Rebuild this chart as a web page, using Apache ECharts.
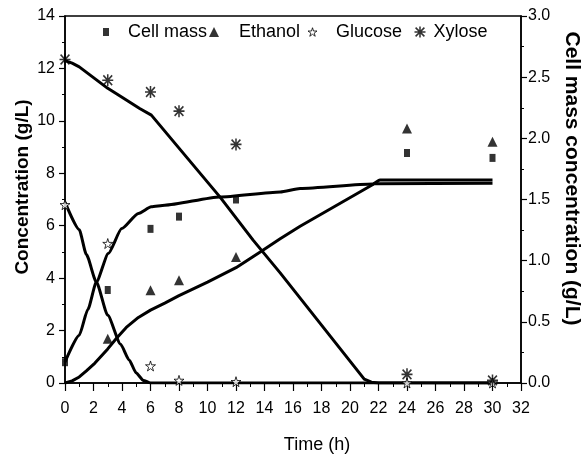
<!DOCTYPE html>
<html>
<head>
<meta charset="utf-8">
<script src="https://cdn.jsdelivr.net/npm/echarts@6/dist/echarts.min.js"></script>
<style>
html,body{margin:0;padding:0;background:#fff;}
#chart{width:583px;height:460px;}
</style>
</head>
<body>
<div id="chart"></div>
<script>
// ---- measured data (Time in h) ----
var times = [0, 3, 6, 8, 12, 24, 30];
var cellMass = [0.17, 0.76, 1.26, 1.36, 1.50, 1.88, 1.84];      // right axis, g/L
var ethanol  = [null, 1.69, 3.54, 3.92, 4.81, 9.71, 9.20];     // left axis, g/L
var glucose  = [6.8, 5.32, 0.65, 0.1, 0.05, 0, 0];            // left axis, g/L
var xylose   = [12.34, 11.55, 11.1, 10.37, 9.1, 0.33, 0.1];    // left axis, g/L

// ---- model curves ----
var xyloseFitT = [0, 0.5, 1, 2, 3, 4, 5.24, 6.06, 8, 10.87, 13.2, 15.1, 21.0, 21.5, 22, 30];
var xyloseFitV = [12.3, 12.2, 12.06, 11.65, 11.24, 10.9, 10.47, 10.22, 8.96, 7.1, 5.45, 4.2, 0.15, 0.03, 0, 0];

var glucoseFitT = [0, 1, 1.5, 2.2, 3, 3.9, 4.5, 5, 5.5, 6, 30];
var glucoseFitV = [6.9, 5.85, 4.9, 3.85, 2.58, 1.48, 0.88, 0.38, 0.1, 0, 0];

var ethanolFitT = [0, 0.5, 1, 1.5, 2.1, 3, 3.6, 4.3, 5.15, 6, 7, 8, 10, 12, 13.7, 15.1, 16.5, 21.7, 30];
var ethanolFitV = [0, 0.08, 0.23, 0.46, 0.76, 1.3, 1.7, 2.12, 2.5, 2.78, 3.05, 3.33, 3.85, 4.4, 5.0, 5.5, 5.98, 7.6, 7.62];

var cellFitT = [0, 1, 1.6, 2.2, 3.04, 3.98, 5.15, 6.05, 7, 10.87, 15.1, 16.5, 21.6, 22.1, 30];
var cellFitV = [0.171, 0.39, 0.6, 0.825, 1.059, 1.262, 1.386, 1.44, 1.453, 1.521, 1.562, 1.59, 1.626, 1.659, 1.659]; // right axis

var leftTicks = {min: 0, max: 14, interval: 2};
var rightTicks = {min: 0, max: 3, interval: 0.5};
var xTicks = {min: 0, max: 32, interval: 2};

function pairs(t, v) {
  var out = [];
  for (var i = 0; i < t.length; i++) {
    if (v[i] !== null && v[i] !== undefined) out.push([t[i], v[i]]);
  }
  return out;
}

var NARROW = "'Liberation Sans Narrow', 'Arial Narrow', 'Liberation Sans', Arial, sans-serif";
var SANS = "'Liberation Sans', Arial, sans-serif";

var STAR = 'path://M50,0 L61,35 L98,35 L68,57 L79,91 L50,70 L21,91 L32,57 L2,35 L39,35 Z';
var AST = 'path://M4.3,0 L5.7,0 L5.7,10 L4.3,10 Z M0,4.3 L10,4.3 L10,5.7 L0,5.7 Z M0.5,1.5 L1.5,0.5 L9.5,8.5 L8.5,9.5 Z M8.5,0.5 L9.5,1.5 L1.5,9.5 L0.5,8.5 Z';

var axisCommon = {
  axisLine: {show: true, lineStyle: {color: '#000', width: 1.5}},
  axisTick: {show: true, inside: false, length: 6, lineStyle: {color: '#000', width: 1.2}},
  minorTick: {show: true, splitNumber: 2, length: 3, lineStyle: {color: '#000', width: 1}},
  splitLine: {show: false},
  axisLabel: {color: '#000', fontFamily: NARROW, fontSize: 16}
};

function merge(a, b) {
  var o = {};
  for (var k in a) o[k] = a[k];
  for (var k2 in b) o[k2] = b[k2];
  return o;
}

var chart = echarts.init(document.getElementById('chart'), null, {renderer: 'canvas'});

function legendItem(name, left, icon, w, h, gap, itemStyle) {
  var l = {
    show: true, top: 23, left: left, padding: 0, itemWidth: w, itemHeight: h, itemGap: 0,
    data: [{name: name, icon: icon}],
    selectedMode: false,
    textStyle: {color: '#000', fontFamily: NARROW, fontSize: 18, padding: [0, 0, 0, gap]}
  };
  if (itemStyle) l.itemStyle = itemStyle;
  return l;
}

var lineStyleFit = {color: '#000', width: 3};

chart.setOption({
  animation: false,
  backgroundColor: '#fff',
  grid: {left: 65, right: 62, top: 16, bottom: 77, containLabel: false, outerBoundsMode: 'none',
    show: true, borderColor: '#000', borderWidth: 1.5, backgroundColor: 'transparent'},
  legend: [
    legendItem('Cell mass', 103, 'rect', 6, 8, 14),
    legendItem('Ethanol', 209, 'triangle', 10, 10, 15),
    legendItem('Glucose', 307.5, STAR, 9, 9, 14, {color: '#fff', borderColor: '#000', borderWidth: 1}),
    legendItem('Xylose', 414.5, AST, 11, 11, 3)
  ],
  xAxis: merge(axisCommon, {
    type: 'value', min: xTicks.min, max: xTicks.max, interval: xTicks.interval,
    axisLabel: {color: '#000', fontFamily: NARROW, fontSize: 16, margin: 18},
    axisTick: {show: true, inside: false, length: 8, lineStyle: {color: '#000', width: 1.2}},
    minorTick: {show: true, splitNumber: 2, length: 4, lineStyle: {color: '#000', width: 1}},
    name: 'Time (h)', nameLocation: 'middle', nameGap: 53,
    nameTextStyle: {color: '#000', fontFamily: NARROW, fontSize: 18, padding: [0, 0, 0, 48]}
  }),
  yAxis: [
    merge(axisCommon, {
      type: 'value', position: 'left', min: leftTicks.min, max: leftTicks.max, interval: leftTicks.interval,
      axisLabel: {color: '#000', fontFamily: NARROW, fontSize: 16, margin: 10},
      name: 'Concentration (g/L)', nameLocation: 'middle', nameRotate: 90, nameGap: 33, nameMoveOverlap: false,
      nameTextStyle: {color: '#000', fontFamily: SANS, fontWeight: 'bold', fontSize: 19, padding: [0, 0, 0, 25]}
    }),
    merge(axisCommon, {
      type: 'value', position: 'right', min: rightTicks.min, max: rightTicks.max, interval: rightTicks.interval,
      axisLabel: {color: '#000', fontFamily: NARROW, fontSize: 16, margin: 7,
        formatter: function (v) { return v.toFixed(1); }},
      name: 'Cell mass concentration (g/L)', nameLocation: 'middle', nameRotate: -90, nameGap: 39,
      nameTextStyle: {color: '#000', fontFamily: SANS, fontWeight: 'bold', fontSize: 21, padding: [0, 42, 0, 0]}
    })
  ],
  series: [
    {name: 'Xylose model', type: 'line', yAxisIndex: 0, data: pairs(xyloseFitT, xyloseFitV),
      showSymbol: false, smooth: false, lineStyle: lineStyleFit, z: 2, silent: true},
    {name: 'Glucose model', type: 'line', yAxisIndex: 0, data: pairs(glucoseFitT, glucoseFitV),
      showSymbol: false, smooth: 0.2, smoothMonotone: 'x', lineStyle: lineStyleFit, z: 2, silent: true},
    {name: 'Ethanol model', type: 'line', yAxisIndex: 0, data: pairs(ethanolFitT, ethanolFitV),
      showSymbol: false, smooth: false, lineStyle: lineStyleFit, z: 2, silent: true},
    {name: 'Cell mass model', type: 'line', yAxisIndex: 1, data: pairs(cellFitT, cellFitV),
      showSymbol: false, smooth: 0.2, smoothMonotone: 'x', lineStyle: lineStyleFit, z: 2, silent: true},
    {name: 'Cell mass', type: 'scatter', yAxisIndex: 1, data: pairs(times, cellMass),
      symbol: 'rect', symbolSize: [6, 8], itemStyle: {color: '#000'}, z: 5},
    {name: 'Ethanol', type: 'scatter', yAxisIndex: 0, data: pairs(times, ethanol),
      symbol: 'triangle', symbolSize: [10, 10], itemStyle: {color: '#000'}, z: 5},
    {name: 'Glucose', type: 'scatter', yAxisIndex: 0, data: pairs(times, glucose),
      symbol: STAR, symbolSize: [10, 10], itemStyle: {color: '#fff', borderColor: '#000', borderWidth: 1}, z: 5},
    {name: 'Xylose', type: 'scatter', yAxisIndex: 0, data: pairs(times, xylose),
      symbol: AST, symbolSize: [11, 12], itemStyle: {color: '#000'}, z: 5}
  ]
});
</script>
</body>
</html>
